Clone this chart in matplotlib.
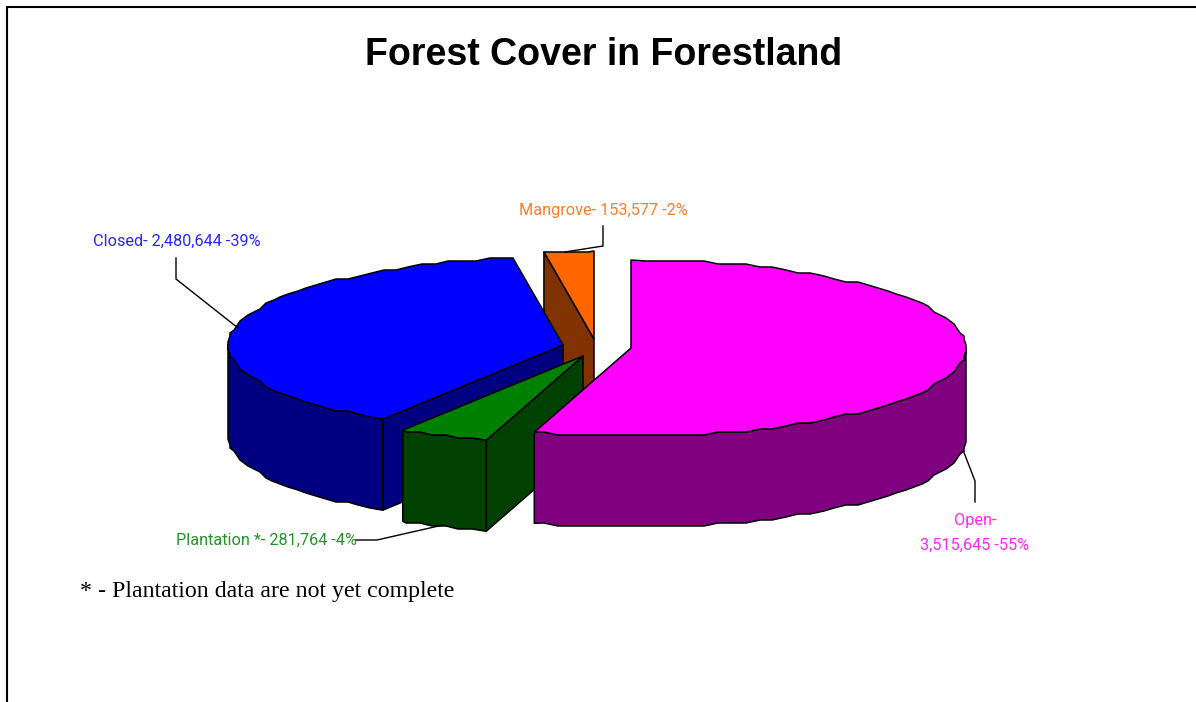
import matplotlib
matplotlib.use("Agg")
import matplotlib.pyplot as plt
import numpy as np
from matplotlib.patches import Polygon

# data, clockwise from 12 o'clock
categories = ["Open", "Plantation *", "Closed", "Mangrove"]
values = [3515645, 281764, 2480644, 153577]

top_colors = ["#FF00FF", "#008000", "#0000FF", "#FF6600"]
side_colors = ["#800080", "#004000", "#000080", "#803300"]

# exploded centre of each slice, in pixels
centers = [(631, 348), (583, 356), (563, 345), (594, 339)]
RX, RY, DEPTH = 335, 88, 91

fig = plt.figure(figsize=(11.96, 7.02), dpi=100)
ax = fig.add_axes([0, 0, 1, 1])
ax.set_xlim(0, 1196)
ax.set_ylim(702, 0)
ax.axis("off")


def rim(cx, cy, a, b):
    # coarse metafile look: rim points get snapped to a rough grid
    ts = np.arange(a, b, np.radians(2.5))
    xs = cx + RX * np.sin(ts)
    ys = cy - RY * np.cos(ts)
    xs = np.round(xs / 2) * 2
    ys = np.round(ys / 3) * 3
    pts = [(cx + RX * np.sin(a), cy - RY * np.cos(a))]
    pts += list(zip(xs[1:], ys[1:]))
    pts.append((cx + RX * np.sin(b), cy - RY * np.cos(b)))
    return pts


def add_face(pts, color):
    ax.add_patch(Polygon(pts, closed=True, facecolor=color, edgecolor="black",
                         linewidth=1.1, joinstyle="round"))


def shift(pts):
    return [(x, y + DEPTH) for x, y in pts]


fractions = np.array(values) / sum(values)
edges = np.concatenate([[0], np.cumsum(fractions)]) * 2 * np.pi

# back to front
for i in [3, 2, 1, 0]:
    a, b = edges[i], edges[i + 1]
    cx, cy = centers[i]

    # cut faces that look toward the viewer
    for t, visible in ((a, np.sin(a) < 0), (b, np.sin(b) > 0)):
        if visible:
            p = (cx + RX * np.sin(t), cy - RY * np.cos(t))
            add_face([(cx, cy), p, (p[0], p[1] + DEPTH), (cx, cy + DEPTH)], side_colors[i])

    # outer wall, front half only
    a2, b2 = max(a, np.pi / 2), min(b, 3 * np.pi / 2)
    if a2 < b2:
        arc = rim(cx, cy, a2, b2)
        add_face(arc + shift(arc)[::-1], side_colors[i])

    add_face([(cx, cy)] + rim(cx, cy, a, b), top_colors[i])

# leader lines
leaders = [
    [(975, 502), (975, 481), (963, 450)],
    [(356, 540), (377, 540), (443, 525)],
    [(176, 258), (176, 279), (238, 328)],
    [(603, 226), (603, 246), (565, 252)],
]
for line in leaders:
    xs, ys = zip(*line)
    ax.plot(xs, ys, color="black", linewidth=1.0, solid_joinstyle="miter")

label_font = ["Roboto", "Liberation Sans"]
label_size = 11.7
label_alpha = 0.85
pcts = [round(f * 100) for f in fractions]
label_text = [f"{c}- {v:,} -{p}%" for c, v, p in zip(categories, values, pcts)]
label_text[0] = label_text[0].replace("- ", "-\n", 1)

ax.text(975, 533, label_text[0], color=top_colors[0], family=label_font, fontsize=label_size,
        ha="center", va="center", linespacing=1.85, alpha=label_alpha)
ax.text(176, 540, label_text[1], color=top_colors[1], family=label_font, fontsize=label_size,
        ha="left", va="center", alpha=label_alpha)
ax.text(93, 241, label_text[2], color=top_colors[2], family=label_font, fontsize=label_size,
        ha="left", va="center", alpha=label_alpha)
ax.text(519, 210, label_text[3], color=top_colors[3], family=label_font, fontsize=label_size,
        ha="left", va="center", alpha=label_alpha)

ax.text(604, 55, "Forest Cover in Forestland", family="Liberation Sans", fontweight="bold",
        fontsize=27, ha="center", va="center")
ax.text(80, 592, "* - Plantation data are not yet complete", family="Liberation Serif",
        fontsize=17.2, ha="left", va="center")

# chart frame runs off the right and bottom of the picture
ax.plot([7, 7, 1196], [702, 7, 7], color="black", linewidth=1.5, solid_joinstyle="miter")

fig.savefig("out.png", dpi=100)
